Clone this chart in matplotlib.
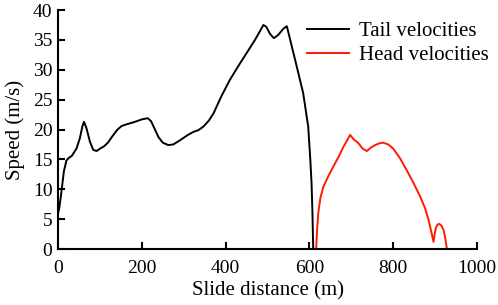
import matplotlib.pyplot as plt

plt.rcParams['font.family'] = ['Liberation Serif', 'DejaVu Serif']

# tail velocities (black)
tail_x = [0, 3, 8, 14, 20, 25, 33, 44, 52, 58, 62, 68, 76, 84, 92, 100, 110, 119,
          130, 142, 152, 165, 184, 200, 214, 222, 230, 240, 250, 263, 275, 291,
          310, 323, 335, 347, 360, 371, 390, 410, 430, 450, 470, 483, 490, 497,
          506, 515, 525, 538, 546, 552, 566, 585, 597, 602, 605, 607, 609]
tail_y = [6.0, 6.8, 9.5, 13.0, 14.8, 15.2, 15.6, 16.8, 18.5, 20.5, 21.3, 20.2, 18.0,
          16.6, 16.4, 16.8, 17.2, 17.8, 18.9, 20.0, 20.6, 20.9, 21.3, 21.7, 21.9,
          21.4, 20.2, 18.7, 17.8, 17.4, 17.5, 18.2, 19.1, 19.6, 19.9, 20.5, 21.5,
          22.7, 25.6, 28.3, 30.6, 32.8, 35.0, 36.6, 37.5, 37.2, 36.0, 35.3, 35.8,
          36.9, 37.3, 35.6, 31.6, 26.1, 20.5, 15.0, 11.0, 6.5, 0.0]

# head velocities (red)
head_x = [616, 618, 621, 626, 633, 645, 657, 670, 681, 690, 697, 705, 717, 727, 737,
          747, 757, 767, 776, 788, 800, 816, 832, 848, 864, 876, 884, 891, 896,
          899, 902, 906, 910, 915, 920, 924, 928]
head_y = [0.0, 3.0, 6.0, 8.5, 10.4, 12.2, 13.8, 15.5, 17.1, 18.2, 19.1, 18.4, 17.7,
          16.8, 16.4, 17.0, 17.4, 17.7, 17.8, 17.5, 16.8, 15.2, 13.2, 11.1, 8.8,
          6.8, 4.9, 2.8, 1.2, 2.6, 3.6, 4.1, 4.2, 3.9, 3.2, 1.8, 0.0]

fig = plt.figure(figsize=(4.98, 3.05), dpi=100)
ax = fig.add_axes([0.1165, 0.1836, 0.8415, 0.7834])

ax.plot(tail_x, tail_y, color='black', lw=1.4, label='Tail velocities')
ax.plot(head_x, head_y, color='#ff1a00', lw=1.4, label='Head velocities')

ax.set_xlim(0, 1000)
ax.set_ylim(0, 40)
ax.set_xticks([0, 200, 400, 600, 800, 1000])
ax.set_yticks([0, 5, 10, 15, 20, 25, 30, 35, 40])
ax.spines['top'].set_visible(False)
ax.spines['right'].set_visible(False)
ax.spines['left'].set_linewidth(1.5)
ax.spines['bottom'].set_linewidth(1.5)
ax.tick_params(direction='in', length=5, width=1.5, labelsize=14, pad=4)
ax.tick_params(axis='x', pad=8)
ax.set_xlabel('Slide distance (m)', fontsize=15, labelpad=3)
ax.set_ylabel('Speed (m/s)', fontsize=15, labelpad=6)

ax.legend(loc='upper right', frameon=False, fontsize=15, handlelength=2.0,
          handletextpad=0.5, labelspacing=0.2, borderaxespad=0.1,
          bbox_to_anchor=(1.053, 0.995))

fig.savefig('out.png', dpi=100)
